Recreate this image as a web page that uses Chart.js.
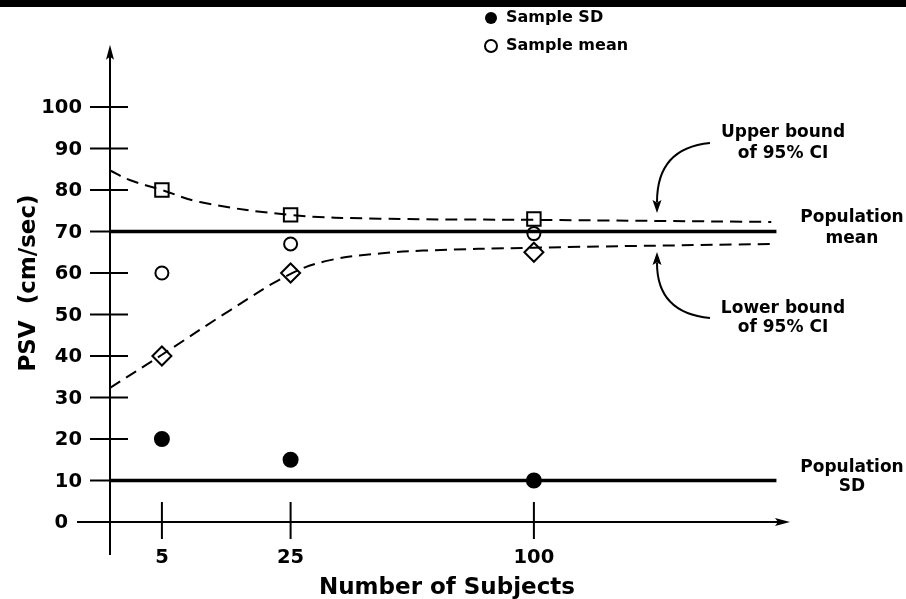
<!DOCTYPE html>
<html>
<head>
<meta charset="utf-8">
<title>PSV and number of subjects</title>
<script src="https://cdn.jsdelivr.net/npm/chart.js@4.4.1/dist/chart.umd.min.js"></script>
<style>
  body { margin: 0; background: #fff; }
  #psvChart { display: block; }
</style>
</head>
<body>
<canvas id="psvChart" width="906" height="599"></canvas>
<script>
// Sample sizes shown on the x axis
const subjectCounts = [5, 25, 100];

// Sample statistics for each sample size (cm/sec)
const sampleSD = [20, 15, 10];
const sampleMean = [60, 67, 69.5];
const upperBound = [80, 74, 73];
const lowerBound = [40, 60, 65];

// Population values
const populationMean = 70;
const populationSD = 10;

const psvTicks = [0, 10, 20, 30, 40, 50, 60, 70, 80, 90, 100];

// Dashed 95% CI envelopes, traced as (subjects, PSV)
const upperCurveN = [1.14, 2.3, 5, 9.4, 25, 47, 100, 217];
const upperCurveV = [84.7, 82.4, 80, 77.1, 74, 73.1, 72.8, 72.3];
const lowerCurveN = [1.14, 5, 13.8, 25, 34, 47, 60, 100, 217];
const lowerCurveV = [32.3, 40.3, 51, 59.8, 63.1, 64.7, 65.4, 66.1, 67];

// Range of the x axis and of the population lines
const axisMinN = 1.14, axisMaxN = 228;
const lineEndN = 220;

const FONT = '"DejaVu Sans", sans-serif';

// x axis spacing: subject counts sit on a power scale
const SUBJECT_EXP = 0.53;
class SubjectScale extends Chart.LinearScale {
    getPixelForValue(value) {
        const lo = Math.pow(this.min, SUBJECT_EXP);
        const hi = Math.pow(this.max, SUBJECT_EXP);
        return this.getPixelForDecimal((Math.pow(value, SUBJECT_EXP) - lo) / (hi - lo));
    }
    getValueForPixel(pixel) {
        const lo = Math.pow(this.min, SUBJECT_EXP);
        const hi = Math.pow(this.max, SUBJECT_EXP);
        return Math.pow(lo + this.getDecimalForPixel(pixel) * (hi - lo), 1 / SUBJECT_EXP);
    }
}
SubjectScale.id = 'subjects';
SubjectScale.defaults = Chart.LinearScale.defaults;
Chart.register(SubjectScale);

function toPoints(xs, ys) {
    return xs.map((x, i) => ({ x: x, y: ys[i] }));
}

function arrowHead(ctx, x, y, angle, len, half) {
    ctx.save();
    ctx.translate(x, y);
    ctx.rotate(angle);
    ctx.beginPath();
    ctx.moveTo(0, 0);
    ctx.lineTo(-len, -half);
    ctx.lineTo(-len * 0.8, 0);
    ctx.lineTo(-len, half);
    ctx.closePath();
    ctx.fill();
    ctx.restore();
}

// Axes, ticks, labels, legend and notes drawn around the plot
const decorations = {
    id: 'decorations',
    beforeDraw(chart) {
        const ctx = chart.ctx;
        ctx.save();
        ctx.fillStyle = '#fff';
        ctx.fillRect(0, 0, chart.width, chart.height);
        ctx.fillStyle = '#000';
        ctx.fillRect(0, 0, chart.width, 7);
        ctx.restore();
    },
    beforeDatasetsDraw(chart) {
        const ctx = chart.ctx;
        const xs = chart.scales.x, ys = chart.scales.y;
        const x0 = xs.getPixelForValue(axisMinN);
        const y0 = ys.getPixelForValue(0);
        ctx.save();
        ctx.strokeStyle = '#000';
        ctx.fillStyle = '#000';
        ctx.lineWidth = 2;

        // y axis with arrow
        const yTip = ys.getPixelForValue(115);
        ctx.beginPath();
        ctx.moveTo(x0, y0 + 33);
        ctx.lineTo(x0, yTip + 6);
        ctx.stroke();
        arrowHead(ctx, x0, yTip, -Math.PI / 2, 15, 4);

        // x axis with arrow
        const xTip = xs.right;
        ctx.beginPath();
        ctx.moveTo(x0 - 33, y0);
        ctx.lineTo(xTip - 6, y0);
        ctx.stroke();
        arrowHead(ctx, xTip, y0, 0, 15, 4);

        // y ticks and labels
        ctx.font = 'bold 19.5px ' + FONT;
        ctx.textAlign = 'right';
        ctx.textBaseline = 'middle';
        psvTicks.forEach(v => {
            const y = ys.getPixelForValue(v);
            if (v > 0) {
                ctx.beginPath();
                ctx.moveTo(x0 - 20, y);
                ctx.lineTo(x0 + 18, y);
                ctx.stroke();
            }
            ctx.fillText(String(v), v === 0 ? x0 - 42 : x0 - 28, y + 1);
        });

        // x ticks and labels
        ctx.textAlign = 'center';
        subjectCounts.forEach(n => {
            const x = xs.getPixelForValue(n);
            ctx.beginPath();
            ctx.moveTo(x, y0 - 20);
            ctx.lineTo(x, y0 + 17);
            ctx.stroke();
            ctx.fillText(String(n), x, y0 + 36);
        });
        ctx.restore();
    },
    afterDraw(chart) {
        const ctx = chart.ctx;
        ctx.save();
        ctx.fillStyle = '#000';
        ctx.strokeStyle = '#000';

        // axis titles
        ctx.font = 'bold 23px ' + FONT;
        ctx.textAlign = 'center';
        ctx.textBaseline = 'alphabetic';
        ctx.fillText('Number of Subjects', 447, 594);
        ctx.save();
        ctx.translate(35, 283);
        ctx.rotate(-Math.PI / 2);
        ctx.fillText('PSV  (cm/sec)', 0, 0);
        ctx.restore();

        // notes on the right
        ctx.font = 'bold 17px ' + FONT;
        ctx.textBaseline = 'middle';
        const notes = [
            ['Upper bound', 783, 133], ['of 95% CI', 783, 154],
            ['Population', 852, 218], ['mean', 852, 239],
            ['Lower bound', 783, 309], ['of 95% CI', 783, 328],
            ['Population', 852, 468], ['SD', 852, 487]
        ];
        notes.forEach(n => ctx.fillText(n[0], n[1], n[2]));

        // curved pointers to the CI bounds
        ctx.lineWidth = 2;
        ctx.beginPath();
        ctx.moveTo(710, 143);
        ctx.quadraticCurveTo(657, 148, 657, 202);
        ctx.stroke();
        arrowHead(ctx, 657, 213, Math.PI / 2, 13, 4.5);
        ctx.beginPath();
        ctx.moveTo(710, 318);
        ctx.quadraticCurveTo(657, 313, 657, 263);
        ctx.stroke();
        arrowHead(ctx, 657, 252, -Math.PI / 2, 13, 4.5);

        // legend
        ctx.font = 'bold 16px ' + FONT;
        ctx.textAlign = 'left';
        ctx.beginPath();
        ctx.arc(491, 18, 6, 0, Math.PI * 2);
        ctx.fill();
        ctx.fillText('Sample SD', 506, 18);
        ctx.beginPath();
        ctx.arc(491, 46, 6, 0, Math.PI * 2);
        ctx.lineWidth = 2;
        ctx.stroke();
        ctx.fillText('Sample mean', 506, 46);
        ctx.restore();
    }
};

function markerSet(values, style, radius, fill) {
    return {
        data: toPoints(subjectCounts, values),
        pointStyle: style,
        pointRadius: radius,
        pointHoverRadius: radius,
        pointBackgroundColor: fill,
        pointBorderColor: '#000',
        pointBorderWidth: 2,
        clip: false
    };
}

function lineSet(points, width, dash) {
    return {
        data: points,
        showLine: true,
        borderColor: '#000',
        borderWidth: width,
        borderDash: dash,
        pointRadius: 0,
        pointHoverRadius: 0,
        tension: 0.4,
        clip: false
    };
}

const ctx = document.getElementById('psvChart').getContext('2d');
new Chart(ctx, {
    type: 'scatter',
    data: {
        datasets: [
            lineSet(toPoints(upperCurveN, upperCurveV), 2, [12, 7]),
            lineSet(toPoints(lowerCurveN, lowerCurveV), 2, [12, 7]),
            lineSet([{ x: axisMinN, y: populationMean }, { x: lineEndN, y: populationMean }], 3.5, []),
            lineSet([{ x: axisMinN, y: populationSD }, { x: lineEndN, y: populationSD }], 3.5, []),
            markerSet(upperBound, 'rect', 9.5, '#fff'),
            markerSet(lowerBound, 'rectRot', 9.5, '#fff'),
            markerSet(sampleMean, 'circle', 6.5, '#fff'),
            markerSet(sampleSD, 'circle', 7, '#000')
        ]
    },
    options: {
        responsive: false,
        animation: false,
        devicePixelRatio: 1,
        layout: { padding: { left: 110, right: 116, top: 107, bottom: 77 } },
        plugins: {
            legend: { display: false },
            tooltip: { enabled: false }
        },
        events: [],
        scales: {
            x: { type: 'subjects', min: axisMinN, max: axisMaxN, display: false },
            y: { type: 'linear', min: 0, max: 100, display: false }
        }
    },
    plugins: [decorations]
});
</script>
</body>
</html>
